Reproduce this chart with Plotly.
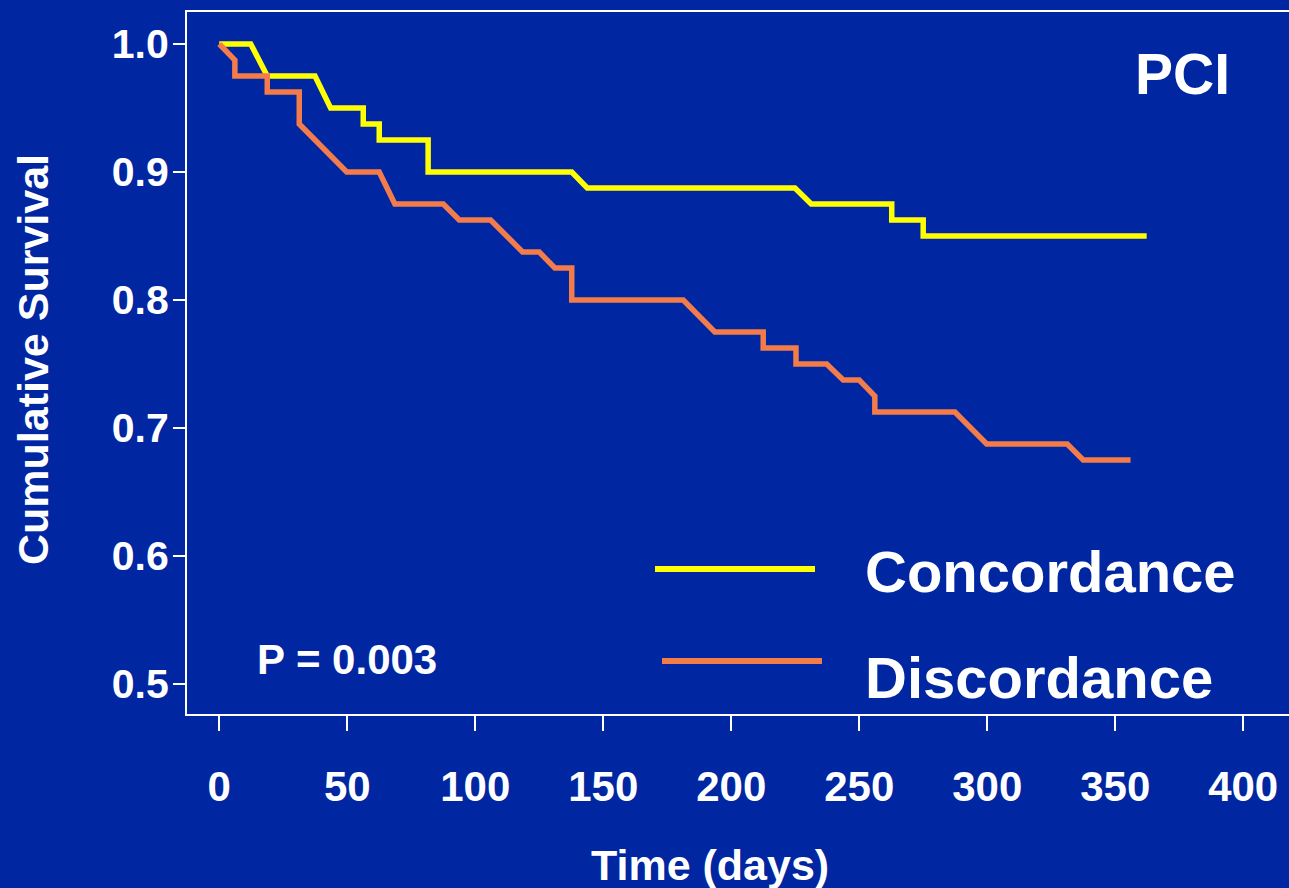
import plotly.graph_objects as go

# Concordance curve vertices (days, cumulative survival)
conc_days = [0, 12.3, 18.75, 37.4, 43.5, 56.25, 56.25, 62.5, 62.5, 81.6, 81.6,
             137.7, 143.75, 224.9, 231.25, 262.7, 262.7, 275, 275, 362.3]
conc_surv = [1.0, 1.0, 0.975, 0.975, 0.95, 0.95, 0.9375, 0.9375, 0.925, 0.925, 0.9,
             0.9, 0.8875, 0.8875, 0.875, 0.875, 0.8625, 0.8625, 0.85, 0.85]

# Discordance curve vertices
disc_days = [0, 6.1, 6.1, 18.75, 18.75, 31.25, 31.25, 49.8, 62.5, 68.6, 87.5,
             93.75, 106, 118.5, 125, 131.1, 137.7, 137.7, 181.25, 193.6, 212.5,
             212.5, 225.3, 225.3, 237.3, 243.75, 250, 256.1, 256.1, 287.4, 299.8,
             331.25, 337.5, 356]
disc_surv = [1.0, 0.9875, 0.975, 0.975, 0.9625, 0.9625, 0.9375, 0.9, 0.9, 0.875, 0.875,
             0.8625, 0.8625, 0.8375, 0.8375, 0.825, 0.825, 0.8, 0.8, 0.775, 0.775,
             0.7625, 0.7625, 0.75, 0.75, 0.7375, 0.7375, 0.725, 0.7125, 0.7125, 0.6875,
             0.6875, 0.675, 0.675]

x_ticks = [0, 50, 100, 150, 200, 250, 300, 350, 400]
y_ticks = [0.5, 0.6, 0.7, 0.8, 0.9, 1.0]
y_tick_text = ["0.5", "0.6", "0.7", "0.8", "0.9", "1.0"]

series_names = ["Concordance", "Discordance"]
x_title = "Time (days)"
y_title = "Cumulative Survival"
p_text = "P = 0.003"
panel_label = "PCI"

BG = "#0027A1"
YEL = "#FFFF00"
ORA = "#F47C4A"
FONT = "Liberation Sans, Arial, sans-serif"

fig = go.Figure()
fig.add_trace(go.Scatter(x=conc_days, y=conc_surv, mode="lines", name=series_names[0],
                         line=dict(color=YEL, width=5.5), showlegend=False))
fig.add_trace(go.Scatter(x=disc_days, y=disc_surv, mode="lines", name=series_names[1],
                         line=dict(color=ORA, width=5.5), showlegend=False))

fig.update_layout(
    width=1289, height=888,
    margin=dict(l=187, r=0, t=12, b=174),
    paper_bgcolor=BG, plot_bgcolor=BG,
    font=dict(family=FONT, color="white", size=40, weight="bold"),
    showlegend=False,
)
fig.update_xaxes(
    range=[-12.6, 417.9], tickvals=x_ticks, ticks="outside", ticklen=15, tickwidth=2,
    tickcolor="white", showline=True, linecolor="white", linewidth=2, mirror=True,
    showgrid=False, zeroline=False, ticklabelstandoff=20,
    tickfont=dict(family=FONT, size=42, color="white", weight="bold"),
)
fig.update_yaxes(
    range=[0.4766, 1.025], tickvals=y_ticks, ticktext=y_tick_text, ticks="outside",
    ticklen=12, tickwidth=2, tickcolor="white", showline=True, linecolor="white",
    linewidth=2, mirror=False, showgrid=False, zeroline=False, ticklabelstandoff=-4,
    tickfont=dict(family=FONT, size=41, color="white", weight="bold"),
)

def px2paper_x(px):
    return (px - 187) / (1289 - 187)

def px2paper_y(py):
    return (714 - py) / (714 - 12)

# Axis titles
fig.add_annotation(xref="paper", yref="paper", x=px2paper_x(710), y=px2paper_y(865),
                   xanchor="center", yanchor="middle", text=x_title, showarrow=False,
                   font=dict(family=FONT, size=43, color="white", weight="bold"))
fig.add_annotation(xref="paper", yref="paper", x=px2paper_x(33), y=px2paper_y(360),
                   xanchor="center", yanchor="middle", text=y_title, showarrow=False,
                   textangle=-90,
                   font=dict(family=FONT, size=43, color="white", weight="bold"))

# Legend samples and labels
fig.add_shape(type="line", xref="paper", yref="paper",
              x0=px2paper_x(655), x1=px2paper_x(815), y0=px2paper_y(569), y1=px2paper_y(569),
              line=dict(color=YEL, width=6))
fig.add_shape(type="line", xref="paper", yref="paper",
              x0=px2paper_x(662), x1=px2paper_x(822), y0=px2paper_y(661), y1=px2paper_y(661),
              line=dict(color=ORA, width=6))
fig.add_annotation(xref="paper", yref="paper", x=px2paper_x(863), y=px2paper_y(571),
                   xanchor="left", yanchor="middle", text=series_names[0], showarrow=False,
                   font=dict(family=FONT, size=58, color="white", weight="bold"))
fig.add_annotation(xref="paper", yref="paper", x=px2paper_x(863), y=px2paper_y(677),
                   xanchor="left", yanchor="middle", text=series_names[1], showarrow=False,
                   font=dict(family=FONT, size=58, color="white", weight="bold"))
fig.add_annotation(xref="paper", yref="paper", x=px2paper_x(255), y=px2paper_y(659),
                   xanchor="left", yanchor="middle", text=p_text, showarrow=False,
                   font=dict(family=FONT, size=42, color="white", weight="bold"))
fig.add_annotation(xref="paper", yref="paper", x=px2paper_x(1182), y=px2paper_y(74),
                   xanchor="center", yanchor="middle", text=panel_label, showarrow=False,
                   font=dict(family=FONT, size=57, color="white", weight="bold"))

fig.write_html("out.html")
